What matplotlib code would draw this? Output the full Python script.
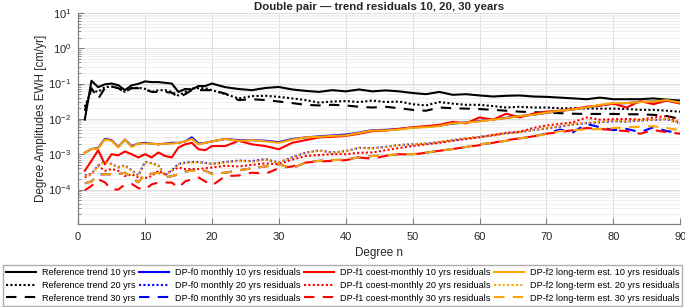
# degree amplitudes of trend residuals, double pair
import matplotlib
matplotlib.use('Agg')
import matplotlib.pyplot as plt
import matplotlib.ticker as ticker
import numpy as np

plt.rcParams['font.family'] = ['Liberation Sans', 'DejaVu Sans']
plt.rcParams['mathtext.fontset'] = 'custom'
plt.rcParams['mathtext.rm'] = 'Liberation Sans'

# grados (1..20 cada uno, luego cada 2)
deg = list(range(1, 21)) + list(range(22, 91, 2))

# Reference trend
ref10 = [0.0095, 0.12, 0.079, 0.095, 0.1, 0.09, 0.065, 0.089, 0.098, 0.115,
         0.11, 0.11, 0.105, 0.1, 0.058, 0.07, 0.068, 0.085, 0.085, 0.1,
         0.079, 0.07, 0.065, 0.075, 0.08, 0.068, 0.062, 0.058, 0.065, 0.06,
         0.068, 0.06, 0.064, 0.06, 0.054, 0.05, 0.058, 0.048, 0.05, 0.046,
         0.043, 0.045, 0.046, 0.043, 0.042, 0.04, 0.038, 0.036, 0.04, 0.036,
         0.036, 0.036, 0.038, 0.035, 0.033]
ref20 = [0.022, 0.065, 0.058, 0.079, 0.082, 0.074, 0.058, 0.074, 0.076, 0.071,
         0.058, 0.065, 0.065, 0.058, 0.046, 0.058, 0.074, 0.074, 0.074, 0.065,
         0.05, 0.038, 0.044, 0.045, 0.042, 0.038, 0.034, 0.029, 0.031, 0.032,
         0.03, 0.033, 0.03, 0.031, 0.026, 0.024, 0.03, 0.027, 0.025, 0.025,
         0.023, 0.021, 0.022, 0.021, 0.021, 0.02, 0.02, 0.0195, 0.0195, 0.0195,
         0.019, 0.018, 0.018, 0.017, 0.016]
ref30 = [0.017, 0.074, 0.037, 0.074, 0.083, 0.074, 0.058, 0.074, 0.074, 0.068,
         0.058, 0.058, 0.058, 0.055, 0.041, 0.05, 0.065, 0.065, 0.065, 0.065,
         0.052, 0.034, 0.036, 0.034, 0.031, 0.028, 0.025, 0.024, 0.025, 0.024,
         0.022, 0.021, 0.022, 0.02, 0.018, 0.017, 0.021, 0.02, 0.0195, 0.019,
         0.018, 0.017, 0.016, 0.0155, 0.015, 0.0145, 0.014, 0.0138, 0.0138, 0.0138,
         0.0135, 0.0135, 0.013, 0.012, 0.01]

# DP-f0 monthly
f0_10 = [0.0011, 0.0014, 0.0015, 0.0027, 0.0025, 0.0016, 0.0026, 0.0017, 0.002, 0.0021,
         0.002, 0.0019, 0.002, 0.0021, 0.0021, 0.0023, 0.003, 0.002, 0.0021, 0.0023,
         0.0027, 0.0025, 0.0025, 0.0024, 0.0022, 0.0027, 0.003, 0.0032, 0.0034, 0.0036,
         0.0041, 0.0048, 0.0049, 0.0052, 0.0057, 0.006, 0.0064, 0.0074, 0.0079, 0.0087,
         0.0096, 0.0107, 0.012, 0.013, 0.0148, 0.0168, 0.0185, 0.021, 0.024, 0.027,
         0.028, 0.03, 0.031, 0.033, 0.029]
f0_20 = [0.00025, 0.00028, 0.00048, 0.00062, 0.00053, 0.00043, 0.00048, 0.00035, 0.00025, 0.0006,
         0.00056, 0.00048, 0.00025, 0.00035, 0.00053, 0.00058, 0.0006, 0.0006, 0.00057, 0.00053,
         0.0006, 0.00066, 0.00064, 0.00072, 0.00058, 0.00082, 0.0011, 0.00128, 0.00112, 0.00122,
         0.00152, 0.00148, 0.00162, 0.00182, 0.0019, 0.002, 0.0022, 0.0025, 0.0028, 0.0031,
         0.0034, 0.0039, 0.0042, 0.0048, 0.0054, 0.006, 0.007, 0.0076, 0.008, 0.0086,
         0.0084, 0.009, 0.0094, 0.0098, 0.0076]
f0_30 = [0.00015, 0.00017, 0.00026, 0.00027, 0.00027, 0.00027, 0.0003, 0.00022, 0.00016, 0.00027,
         0.00028, 0.0003, 0.00022, 0.00024, 0.00027, 0.00032, 0.00035, 0.00034, 0.00034, 0.00028,
         0.0003, 0.00035, 0.0004, 0.00045, 0.00052, 0.0004, 0.00058, 0.00065, 0.00068, 0.0007,
         0.00082, 0.00089, 0.00092, 0.001, 0.001, 0.0011, 0.00126, 0.0014, 0.0016, 0.0019,
         0.0021, 0.0024, 0.0028, 0.0032, 0.0038, 0.005, 0.0042, 0.0072, 0.0058, 0.0048,
         0.0052, 0.0042, 0.0058, 0.0045, 0.004]

# DP-f1 coest-monthly
f1_10 = [0.00034, 0.00065, 0.0013, 0.00052, 0.001, 0.00093, 0.0012, 0.001, 0.00081, 0.001,
         0.00081, 0.00112, 0.00089, 0.00081, 0.00155, 0.0019, 0.0021, 0.00138, 0.0013, 0.0017,
         0.0017, 0.0024, 0.0019, 0.0017, 0.00138, 0.0021, 0.0025, 0.003, 0.0031, 0.0033,
         0.0038, 0.0045, 0.0047, 0.0052, 0.0058, 0.0062, 0.0068, 0.0082, 0.0075, 0.011,
         0.0095, 0.014, 0.011, 0.014, 0.016, 0.017, 0.019, 0.022, 0.024, 0.027,
         0.021, 0.032, 0.026, 0.033, 0.027]
f1_20 = [0.00022, 0.00027, 0.00047, 0.00034, 0.00038, 0.00034, 0.00024, 0.00027, 0.00022, 0.00021,
         0.00024, 0.00034, 0.00027, 0.00034, 0.00042, 0.00038, 0.00038, 0.00038, 0.0004, 0.00042,
         0.00047, 0.00045, 0.0005, 0.00055, 0.00052, 0.0007, 0.00089, 0.00095, 0.001, 0.001,
         0.0011, 0.00112, 0.0013, 0.0015, 0.0017, 0.0019, 0.0021, 0.0024, 0.0027, 0.003,
         0.0035, 0.004, 0.0043, 0.0055, 0.0065, 0.0072, 0.008, 0.011, 0.0095, 0.0098,
         0.01, 0.0095, 0.011, 0.012, 0.0075]
f1_30 = [0.000095, 0.000126, 0.000195, 0.00016, 0.0001, 0.0001, 0.00014, 0.000145, 0.00011, 0.0001,
         0.00014, 0.000158, 0.000158, 0.000158, 0.000112, 0.00017, 0.000195, 0.00022, 0.00017, 0.00013,
         0.00024, 0.00025, 0.0003, 0.00028, 0.0004, 0.00045, 0.00058, 0.00062, 0.00065, 0.00068,
         0.0008, 0.00075, 0.0009, 0.001, 0.00098, 0.0011, 0.00125, 0.0014, 0.0016, 0.0018,
         0.0021, 0.0025, 0.0028, 0.0032, 0.0038, 0.0042, 0.0048, 0.0055, 0.0052, 0.0048,
         0.0045, 0.0038, 0.0048, 0.0042, 0.0038]

# DP-f2 long-term est.
f2_10 = [0.0011, 0.0014, 0.00145, 0.0026, 0.0024, 0.00155, 0.0026, 0.0016, 0.002, 0.002,
         0.002, 0.0019, 0.002, 0.002, 0.0021, 0.0023, 0.0027, 0.0019, 0.0021, 0.0023,
         0.0027, 0.0024, 0.0025, 0.0023, 0.0021, 0.0026, 0.003, 0.0031, 0.0033, 0.0034,
         0.004, 0.0047, 0.0047, 0.005, 0.0056, 0.0058, 0.0063, 0.0075, 0.0078, 0.0085,
         0.0095, 0.0105, 0.012, 0.013, 0.015, 0.017, 0.0185, 0.021, 0.025, 0.028,
         0.028, 0.03, 0.031, 0.034, 0.029]
f2_20 = [0.00024, 0.00027, 0.00047, 0.0006, 0.00052, 0.00042, 0.00047, 0.00034, 0.00024, 0.00058,
         0.00055, 0.00047, 0.00024, 0.00034, 0.00052, 0.00056, 0.00058, 0.00058, 0.00056, 0.00052,
         0.00058, 0.00065, 0.00062, 0.0007, 0.00058, 0.0008, 0.0011, 0.00125, 0.0011, 0.0012,
         0.0015, 0.00145, 0.0016, 0.0018, 0.0019, 0.002, 0.0022, 0.0025, 0.0028, 0.0031,
         0.0034, 0.0039, 0.0042, 0.0048, 0.0055, 0.0062, 0.0072, 0.0078, 0.0082, 0.0088,
         0.0085, 0.0092, 0.0095, 0.01, 0.0075]
f2_30 = [0.00015, 0.00017, 0.00025, 0.00027, 0.00027, 0.00027, 0.0003, 0.00022, 0.00016, 0.00027,
         0.00028, 0.0003, 0.00022, 0.00024, 0.00027, 0.00032, 0.00034, 0.00034, 0.00034, 0.00027,
         0.0003, 0.00035, 0.0004, 0.00045, 0.00052, 0.0004, 0.00058, 0.00065, 0.00068, 0.0007,
         0.00082, 0.00089, 0.00092, 0.001, 0.001, 0.0011, 0.00126, 0.0014, 0.0016, 0.0019,
         0.0021, 0.0024, 0.0028, 0.0032, 0.0037, 0.0045, 0.0048, 0.005, 0.0052, 0.0055,
         0.0058, 0.006, 0.0062, 0.0055, 0.0047]

orange = '#ffa500'
dot = (0, (1, 1.1))
dash = (0, (5, 4))

series = [
    (ref10, 'k', '-', 'Reference trend 10 yrs'),
    (ref20, 'k', dot, 'Reference trend 20 yrs'),
    (ref30, 'k', dash, 'Reference trend 30 yrs'),
    (f0_10, 'b', '-', 'DP-f0 monthly 10 yrs residuals'),
    (f0_20, 'b', dot, 'DP-f0 monthly 20 yrs residuals'),
    (f0_30, 'b', dash, 'DP-f0 monthly 30 yrs residuals'),
    (f1_10, 'r', '-', 'DP-f1 coest-monthly 10 yrs residuals'),
    (f1_20, 'r', dot, 'DP-f1 coest-monthly 20 yrs residuals'),
    (f1_30, 'r', dash, 'DP-f1 coest-monthly 30 yrs residuals'),
    (f2_10, orange, '-', 'DP-f2 long-term est. 10 yrs residuals'),
    (f2_20, orange, dot, 'DP-f2 long-term est. 20 yrs residuals'),
    (f2_30, orange, dash, 'DP-f2 long-term est. 30 yrs residuals'),
]

fig = plt.figure(figsize=(6.85, 3.07), dpi=100)
ax = fig.add_axes([0.114, 0.270, 0.879, 0.688])

for vals, col, ls, lab in series:
    ax.plot(deg, vals, color=col, linestyle=ls, linewidth=1.5, label=lab)

ax.set_yscale('log')
ax.set_xlim(0, 90)
ax.set_ylim(1.05e-5, 10)
ax.set_xticks(np.arange(0, 91, 10))
ax.yaxis.set_major_locator(ticker.FixedLocator([1e-4, 1e-3, 1e-2, 1e-1, 1, 10]))
ax.yaxis.set_minor_locator(ticker.LogLocator(base=10, subs=np.arange(2, 10)))
ax.yaxis.set_minor_formatter(ticker.NullFormatter())

ax.grid(True, which='major', color='#dcdcdc', linewidth=0.7)
ax.grid(True, which='minor', axis='y', color='#ececec', linewidth=0.6)
ax.set_axisbelow(True)

for s in ['top', 'right']:
    ax.spines[s].set_visible(False)
for s in ['left', 'bottom']:
    ax.spines[s].set_color('#808080')
    ax.spines[s].set_linewidth(0.9)

ax.tick_params(which='both', direction='in', colors='#808080', labelcolor='#262626', labelsize=8)
ax.tick_params(which='major', length=4)
ax.tick_params(which='minor', length=2)
ax.tick_params(axis='x', pad=6)
ax.tick_params(axis='y', pad=5)

ax.set_xlabel('Degree n', fontsize=8.4, color='#262626', labelpad=3)
ax.set_ylabel('Degree Amplitudes EWH [cm/yr]', fontsize=8.4, color='#262626', labelpad=1)
ax.set_title('Double pair — trend residuals 10, 20, 30 years', fontsize=8.2,
             fontweight='bold', color='#262626', pad=2)

leg = fig.legend(loc='lower left', bbox_to_anchor=(0.004, 0.004, 0.992, 0.135),
                 mode='expand', ncol=4, fontsize=6.6, frameon=True, fancybox=False,
                 handlelength=3.3, handletextpad=0.6, borderaxespad=0.0,
                 labelspacing=0.4, borderpad=0.35, columnspacing=1.0)
leg.get_frame().set_edgecolor('#9a9a9a')
leg.get_frame().set_linewidth(1.0)

plt.savefig('out.png', dpi=100)
